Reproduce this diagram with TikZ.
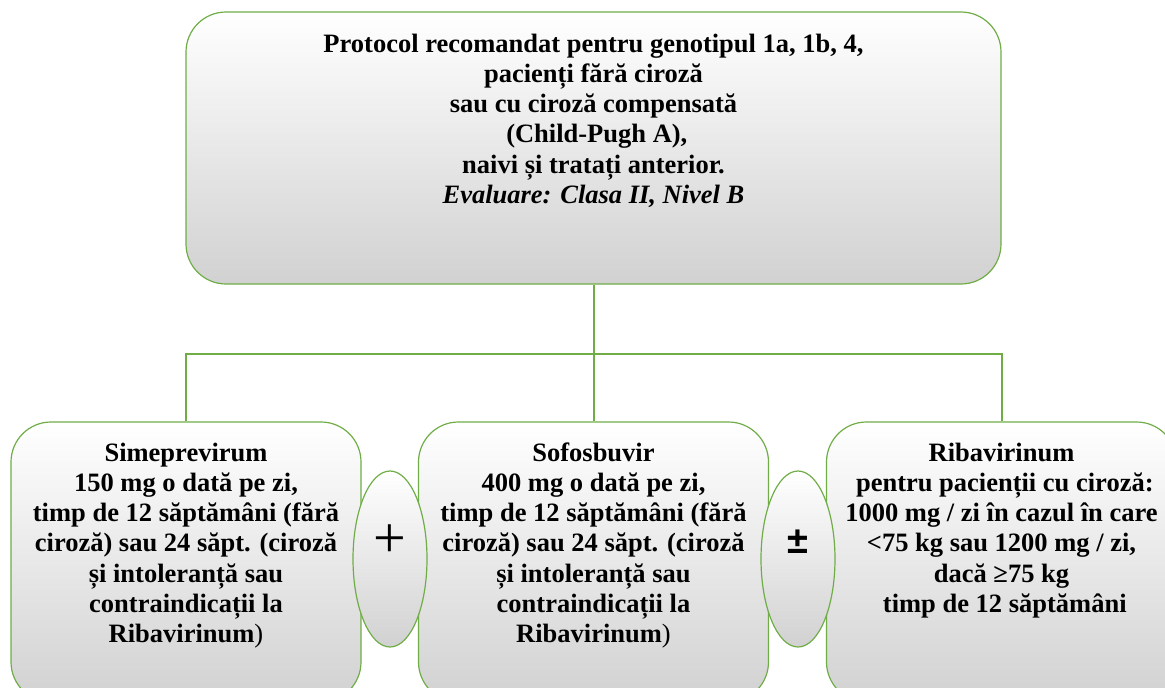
\documentclass[tikz,border=0pt]{standalone}
\usepackage{fontspec}
\setmainfont{Liberation Serif}
\newfontfamily\symsans{Liberation Sans}
\usetikzlibrary{shapes.geometric}
\definecolor{boxgreen}{RGB}{112,173,71}
\begin{document}
\begin{tikzpicture}[x=1pt,y=-1pt,
  panel/.style={draw=boxgreen, line width=1.2pt, rounded corners=40pt,
    inner sep=0pt, top color=white, middle color=black!3, bottom color=black!18,
    font=\bfseries\fontsize{26.5}{30.3}\selectfont},
  oval/.style={draw=boxgreen, line width=1.2pt, ellipse, inner sep=0pt,
    minimum width=74pt, minimum height=176pt,
    top color=white, middle color=black!3, bottom color=black!18},
  conn/.style={draw=boxgreen, line width=2pt}]
\useasboundingbox (0,0) rectangle (1165,688);

% protocol box
\node[panel] (top) at (593.5,148) {%
  \begin{minipage}[c][272pt][t]{815pt}\centering
  \vspace*{18.8pt}\strut Protocol recomandat pentru genotipul 1a, 1b, 4,\\
  pacienți fără ciroză\\
  sau cu ciroză compensată\\
  \ (Child-Pugh A),\\
  naivi și tratați anterior.\\
  \textit{Evaluare: Clasa II, Nivel B}
  \end{minipage}};

% drug boxes
\node[panel] (sim) at (186,562) {%
  \begin{minipage}[c][280pt][t]{350pt}\centering
  \vspace*{17.8pt}\strut Simeprevirum\\
  150 mg o dată pe zi,\\
  timp de 12 săptămâni (fără\\
  ciroză) sau 24 săpt. (ciroză\\
  și intoleranță sau\\
  contraindicații la\\
  Ribavirinum{\mdseries )}
  \end{minipage}};
\node[panel] (sof) at (593.5,562) {%
  \begin{minipage}[c][280pt][t]{350pt}\centering
  \vspace*{17.8pt}\strut Sofosbuvir\\
  400 mg o dată pe zi,\\
  timp de 12 săptămâni (fără\\
  ciroză) sau 24 săpt. (ciroză\\
  și intoleranță sau\\
  contraindicații la\\
  Ribavirinum{\mdseries )}
  \end{minipage}};
\node[panel] (rib) at (1001.5,562) {%
  \begin{minipage}[c][280pt][t]{350pt}\centering
  \vspace*{17.8pt}\strut Ribavirinum\\
  \ pentru pacienții cu ciroză:\\
  1000 mg / zi în cazul în care\\
  <75 kg sau 1200 mg / zi,\\
  dacă ≥75 kg\\
  \ timp de 12 săptămâni
  \end{minipage}};

% combination signs
\node[oval] (plus) at (390,559)
  {\raisebox{2pt}[0pt][0pt]{\fontsize{58}{58}\selectfont +}};
\node[oval] (pm) at (798,559)
  {\raisebox{5.6pt}[0pt][0pt]{\symsans\bfseries\fontsize{38}{38}\selectfont ±}};

% tree connectors
\draw[conn] (top.south) -- ++(0,69) coordinate (bus);
\draw[conn] (bus) -| (sim.north);
\draw[conn] (bus) -| (rib.north);
\draw[conn] (bus) -- (sof.north);
\end{tikzpicture}
\end{document}
